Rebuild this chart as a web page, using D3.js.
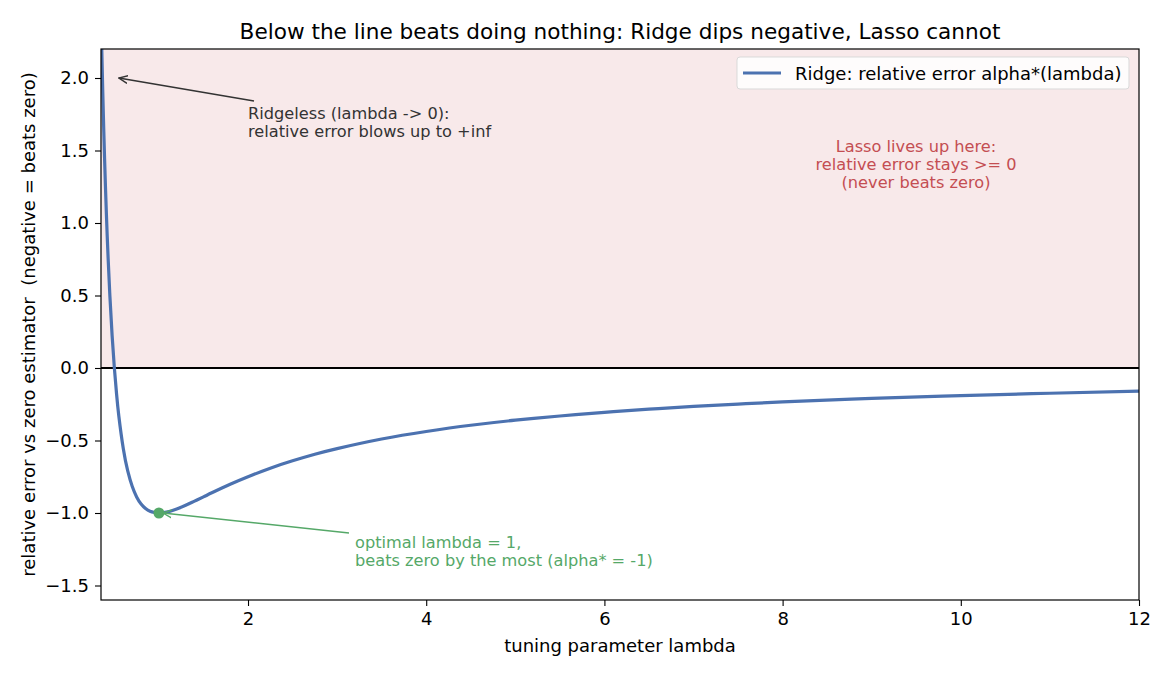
<!DOCTYPE html>
<html>
<head>
<meta charset="utf-8">
<script src="https://cdn.jsdelivr.net/npm/d3@7"></script>
<style>
  body { margin: 0; background: #fff; }
  svg { font-family: "DejaVu Sans", sans-serif; }
</style>
</head>
<body>
<svg id="chart" width="1170" height="676"></svg>
<script>
// values
var lambdas = [0.355, 0.36, 0.37, 0.38, 0.39, 0.40, 0.41, 0.42, 0.43, 0.45, 0.475, 0.5, 0.525, 0.55, 0.6, 0.65, 0.7, 0.75, 0.8, 0.85, 0.9, 0.95, 1.0, 1.1, 1.2, 1.3, 1.4, 1.5, 1.6, 1.8, 2, 2.25, 2.5, 2.75, 3, 3.5, 4, 4.5, 5, 5.5, 6, 6.5, 7, 7.5, 8, 9, 10, 11, 12];
var alphas = [2.300, 2.160, 1.900, 1.662, 1.447, 1.250, 1.071, 0.907, 0.757, 0.494, 0.222, 0.0, -0.181, -0.331, -0.556, -0.710, -0.816, -0.889, -0.938, -0.969, -0.988, -0.997, -1.0, -0.992, -0.972, -0.947, -0.918, -0.889, -0.859, -0.802, -0.750, -0.691, -0.640, -0.595, -0.556, -0.490, -0.438, -0.395, -0.360, -0.331, -0.306, -0.284, -0.265, -0.249, -0.234, -0.210, -0.190, -0.174, -0.160];
var xTicks = [2, 4, 6, 8, 10, 12];
var yTicks = [-1.5, -1.0, -0.5, 0.0, 0.5, 1.0, 1.5, 2.0];
var optimum = [1, -1];
var ridgelessPoint = [0.55, 2.0];

var svg = d3.select('#chart');
var margin = {top: 49, right: 31, bottom: 76, left: 101};
var width = 1170 - margin.left - margin.right;
var height = 676 - margin.top - margin.bottom;

var x = d3.scaleLinear().domain([0.35, 12]).range([0, width]);
var y = d3.scaleLinear().domain([-1.6, 2.2]).range([height, 0]);

var g = svg.append('g').attr('transform', 'translate(' + margin.left + ',' + margin.top + ')');

svg.append('defs').append('clipPath').attr('id', 'clip')
    .append('rect').attr('width', width).attr('height', height);

// shaded region above zero
g.append('rect')
    .attr('x', 0).attr('y', y(2.2))
    .attr('width', width).attr('height', y(0) - y(2.2))
    .attr('fill', '#c44e52').attr('fill-opacity', 0.12);

// zero line
g.append('line')
    .attr('x1', 0).attr('x2', width)
    .attr('y1', y(0)).attr('y2', y(0))
    .attr('stroke', '#000').attr('stroke-width', 1.8);

var line = d3.line()
    .x(d => x(d[0]))
    .y(d => y(d[1]))
    .curve(d3.curveNatural);

g.append('path')
    .datum(d3.zip(lambdas, alphas))
    .attr('clip-path', 'url(#clip)')
    .attr('d', line)
    .attr('fill', 'none')
    .attr('stroke', '#4c72b0')
    .attr('stroke-width', 3.2);

// optimum marker
g.append('circle')
    .attr('cx', x(optimum[0])).attr('cy', y(optimum[1]))
    .attr('r', 5.5).attr('fill', '#55a868');

// axes
var minus = d => d3.format('.1f')(d).replace('-', '\u2212');
var xAxis = g.append('g')
    .attr('transform', 'translate(0,' + height + ')')
    .call(d3.axisBottom(x).tickValues(xTicks).tickSize(6).tickPadding(6).tickFormat(d3.format('d')));
var yAxis = g.append('g')
    .call(d3.axisLeft(y).tickValues(yTicks).tickSize(6).tickPadding(6).tickFormat(minus));
[xAxis, yAxis].forEach(a => {
    a.select('.domain').remove();
    a.selectAll('text').attr('font-size', 18).attr('fill', '#000').attr('font-family', '"DejaVu Sans", sans-serif');
    a.selectAll('line').attr('stroke', '#000').attr('stroke-width', 1.1);
});

g.append('rect')
    .attr('width', width).attr('height', height)
    .attr('fill', 'none').attr('stroke', '#000').attr('stroke-width', 1.2);

// arrow markers
var defs = svg.select('defs');
function arrowHead(id, color) {
    defs.append('marker').attr('id', id)
        .attr('viewBox', '0 -5 10 10').attr('refX', 9).attr('refY', 0)
        .attr('markerWidth', 10).attr('markerHeight', 10).attr('markerUnits', 'userSpaceOnUse')
        .attr('orient', 'auto')
        .append('path').attr('d', 'M0,-4L9,0L0,4').attr('fill', 'none')
        .attr('stroke', color).attr('stroke-width', 1.4);
}
arrowHead('arrDark', '#333333');
arrowHead('arrGreen', '#55a868');

// ridgeless annotation
g.append('line')
    .attr('x1', 254 - margin.left).attr('y1', 101 - margin.top)
    .attr('x2', x(ridgelessPoint[0])).attr('y2', y(ridgelessPoint[1]))
    .attr('stroke', '#333333').attr('stroke-width', 1.5)
    .attr('marker-end', 'url(#arrDark)');
var t1 = g.append('text').attr('fill', '#333333').attr('font-size', 16.2);
t1.append('tspan').attr('x', 248 - margin.left).attr('y', 119 - margin.top).text('Ridgeless (lambda -> 0):');
t1.append('tspan').attr('x', 248 - margin.left).attr('y', 137 - margin.top).text('relative error blows up to +inf');

// optimum annotation
g.append('line')
    .attr('x1', 349 - margin.left).attr('y1', 533 - margin.top)
    .attr('x2', x(optimum[0]) + 4).attr('y2', y(optimum[1]))
    .attr('stroke', '#55a868').attr('stroke-width', 1.5)
    .attr('marker-end', 'url(#arrGreen)');
var t2 = g.append('text').attr('fill', '#55a868').attr('font-size', 16.2);
t2.append('tspan').attr('x', 355 - margin.left).attr('y', 548 - margin.top).text('optimal lambda = 1,');
t2.append('tspan').attr('x', 355 - margin.left).attr('y', 566 - margin.top).text('beats zero by the most (alpha* = -1)');

// lasso note
var t3 = g.append('text').attr('fill', '#c44e52').attr('font-size', 16.2).attr('text-anchor', 'middle');
['Lasso lives up here:', 'relative error stays >= 0', '(never beats zero)'].forEach((s, i) => {
    t3.append('tspan').attr('x', 916 - margin.left).attr('y', 152 - margin.top + i * 18).text(s);
});

// legend
var leg = g.append('g').attr('transform', 'translate(' + (737 - margin.left) + ',' + (57 - margin.top) + ')');
leg.append('rect').attr('width', 392).attr('height', 32).attr('rx', 3)
    .attr('fill', '#fff').attr('fill-opacity', 0.85)
    .attr('stroke', '#d9d9d9').attr('stroke-width', 1);
leg.append('line').attr('x1', 6).attr('x2', 44).attr('y1', 16).attr('y2', 16)
    .attr('stroke', '#4c72b0').attr('stroke-width', 3.2);
leg.append('text').attr('x', 58).attr('y', 22.5).attr('font-size', 18).attr('fill', '#000')
    .text('Ridge: relative error alpha*(lambda)');

// title and axis labels
svg.append('text').attr('x', margin.left + width / 2).attr('y', 39)
    .attr('text-anchor', 'middle').attr('font-size', 21.6).attr('fill', '#000')
    .text('Below the line beats doing nothing: Ridge dips negative, Lasso cannot');
svg.append('text').attr('x', margin.left + width / 2).attr('y', 652)
    .attr('text-anchor', 'middle').attr('font-size', 18).attr('fill', '#000')
    .text('tuning parameter lambda');
svg.append('text')
    .attr('transform', 'translate(35,' + (margin.top + height / 2) + ') rotate(-90)')
    .attr('text-anchor', 'middle').attr('font-size', 18).attr('fill', '#000')
    .style('white-space', 'pre')
    .text('relative error vs zero estimator  (negative = beats zero)');
</script>
</body>
</html>
